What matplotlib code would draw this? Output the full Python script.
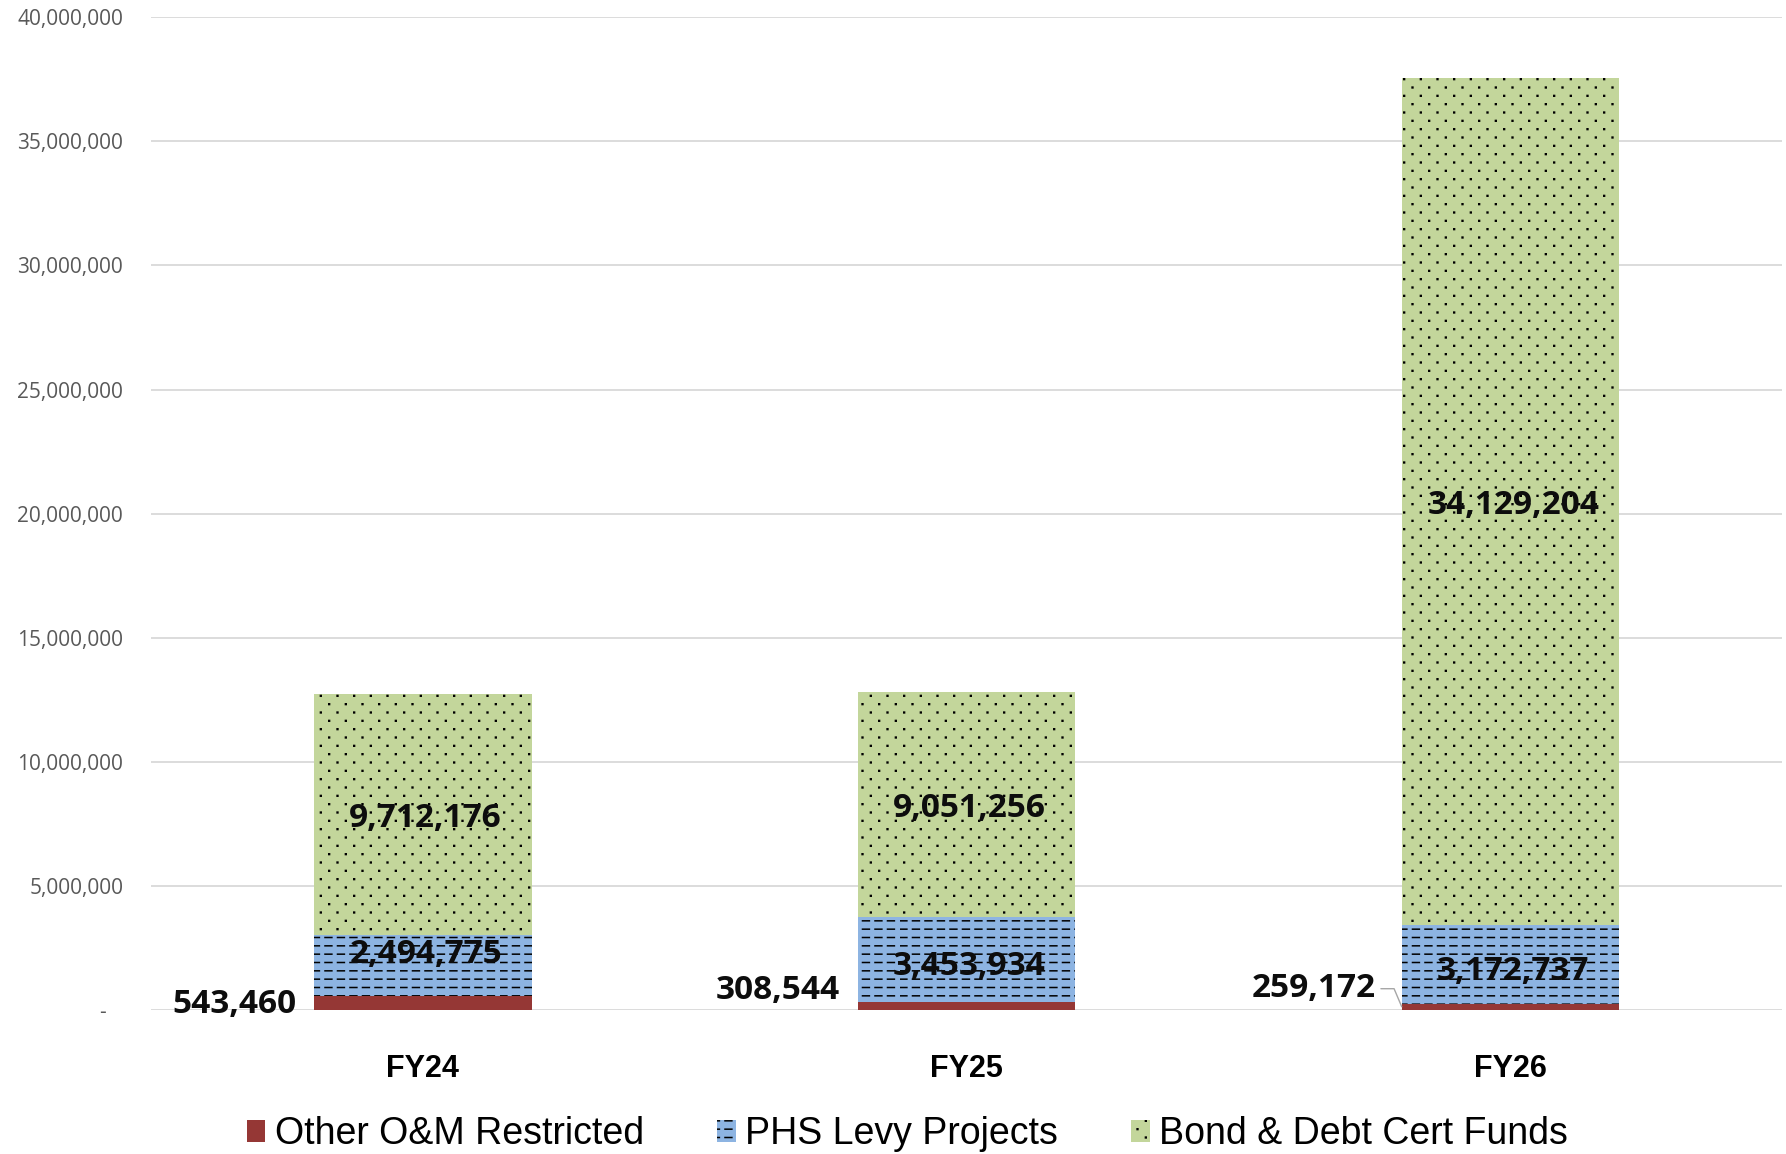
import numpy as np
import matplotlib
matplotlib.use('Agg')
import matplotlib.pyplot as plt
from matplotlib import hatch as mhatch
from matplotlib.path import Path
from matplotlib.ticker import FuncFormatter, MultipleLocator

years = ['FY24', 'FY25', 'FY26']
other_om = [543460, 308544, 259172]
phs_levy = [2494775, 3453934, 3172737]
bond_debt = [9712176, 9051256, 34129204]

series_names = ['Other O&M Restricted', 'PHS Levy Projects', 'Bond & Debt Cert Funds']
colors = ['#953735', '#8DB4E2', '#C3D69B']


# Excel style patterns: rows of short dashes, and a staggered sparse dot grid
class DashRows(mhatch.HatchPatternBase):
    def __init__(self, hatch, density):
        self.num_lines = int(hatch.count('-') * density)
        self.num_dashes = 8
        self.num_vertices = self.num_lines * self.num_dashes * 2

    def set_vertices_and_codes(self, vertices, codes):
        ys = (np.arange(self.num_lines) + 0.5) / self.num_lines
        xs = np.arange(self.num_dashes) / self.num_dashes
        yy, xx = np.meshgrid(ys, xs, indexing='ij')
        vertices[0::2, 0] = xx.ravel()
        vertices[0::2, 1] = yy.ravel()
        vertices[1::2, 0] = xx.ravel() + 0.55 / self.num_dashes
        vertices[1::2, 1] = yy.ravel()
        codes[0::2] = Path.MOVETO
        codes[1::2] = Path.LINETO


class DotGrid(mhatch.HatchPatternBase):
    def __init__(self, hatch, density):
        self.num_rows = int(hatch.count('.') * density)
        self.num_cols = self.num_rows // 2
        self.shape = Path.unit_rectangle()
        self.num_vertices = self.num_rows * self.num_cols * len(self.shape.vertices)

    def set_vertices_and_codes(self, vertices, codes):
        size = 0.008
        nv = len(self.shape.vertices)
        i = 0
        for r in range(self.num_rows):
            off = 0.5 if r % 2 else 0.0
            for c in range(self.num_cols):
                x = (c + off + 0.25) / self.num_cols
                y = (r + 0.5) / self.num_rows
                vertices[i:i + nv] = self.shape.vertices * size + (x - size / 2, y - size / 2)
                codes[i:i + nv] = self.shape.codes
                i += nv


mhatch._hatch_types[:] = [DashRows if t is mhatch.HorizontalHatch
                          else DotGrid if t is mhatch.SmallFilledCircles
                          else t for t in mhatch._hatch_types]

plt.rcParams['hatch.linewidth'] = 1.1

fig = plt.figure(figsize=(17.86, 11.54), dpi=100)
ax = fig.add_axes([0.0845, 0.1248, 0.9135, 0.8602])

x = np.arange(len(years))
w = 0.4
bottom2 = np.array(other_om)
bottom3 = bottom2 + np.array(phs_levy)

b1 = ax.bar(x, other_om, w, color=colors[0], linewidth=0, label=series_names[0])
b2 = ax.bar(x, phs_levy, w, bottom=bottom2, color=colors[1], hatch='--', linewidth=0,
            label=series_names[1])
b3 = ax.bar(x, bond_debt, w, bottom=bottom3, color=colors[2], hatch='..', linewidth=0,
            label=series_names[2])

ax.set_xlim(-0.5, 2.5)
ax.set_ylim(0, 40000000)
ax.yaxis.set_major_locator(MultipleLocator(5000000))
ax.yaxis.set_major_formatter(FuncFormatter(lambda v, p: f'{v:,.0f}' if v else '-   '))
ax.grid(axis='y', color='#d9d9d9', linewidth=1.3)
ax.set_axisbelow(True)
for s in ax.spines.values():
    s.set_visible(False)
ax.tick_params(axis='y', length=0, pad=20, labelsize=15, labelcolor='#595959')
ax.tick_params(axis='x', length=0, pad=32)
for lab in ax.get_yticklabels():
    lab.set_family('Open Sans')
ax.set_xticks(x)
ax.set_xticklabels(years, fontsize=22, fontweight='bold', family='Liberation Sans')

lbl = dict(fontsize=24, fontweight='bold', family='Open Sans', color='#0d0d0d')

# small red segments: labels sit left of the bars
red_offsets = [(-13, -1), (-13, 11), (-19, 13)]
for i in range(len(years)):
    kw = {}
    if i == 2:
        kw['arrowprops'] = dict(arrowstyle='-', color='#a6a6a6', lw=1,
                                connectionstyle='angle,angleA=0,angleB=113,rad=0',
                                shrinkA=2, shrinkB=0)
    ax.annotate(f'{other_om[i]:,}', xy=(x[i] - w / 2, other_om[i] / 2),
                xytext=red_offsets[i], textcoords='offset points',
                ha='right', va='center', **lbl, **kw)

phs_offsets = [8, -5, -5]
for i in range(len(years)):
    ax.annotate(f'{phs_levy[i]:,}', xy=(x[i], bottom2[i] + phs_levy[i] / 2),
                xytext=(2, phs_offsets[i]), textcoords='offset points',
                ha='center', va='center', **lbl)
    ax.annotate(f'{bond_debt[i]:,}', xy=(x[i], bottom3[i] + bond_debt[i] / 2),
                xytext=(2, -3), textcoords='offset points',
                ha='center', va='center', **lbl)

fig.legend(handles=[b1, b2, b3], loc='center', bbox_to_anchor=(0.508, 0.017),
           ncol=3, frameon=False, prop={'family': 'Liberation Sans', 'size': 27},
           handlelength=0.5, handleheight=0.5, handletextpad=0.25, columnspacing=1.95)

plt.savefig('out.png', dpi=100)
